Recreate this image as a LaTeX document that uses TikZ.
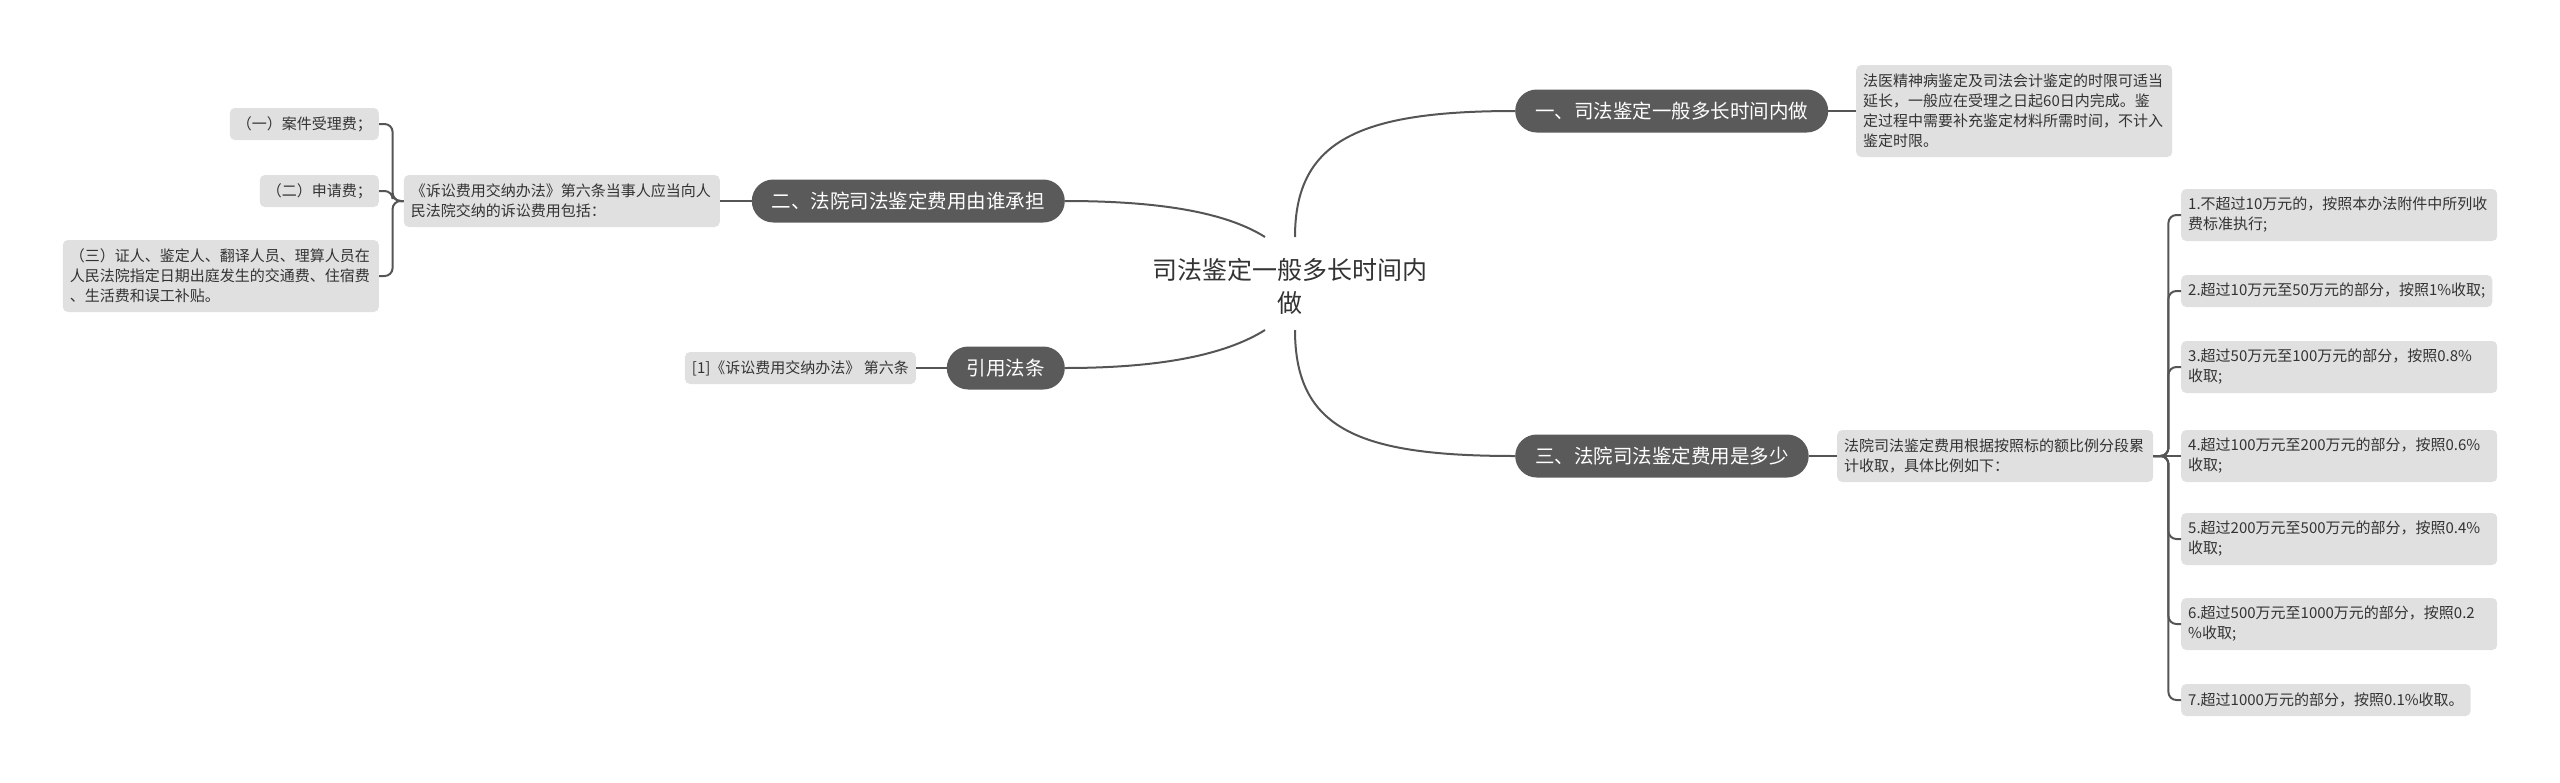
\documentclass[tikz,border=0pt]{standalone}
\usepackage{fontspec}
\setmainfont{Noto Sans CJK SC}
\definecolor{topicc}{HTML}{5A5A5A}
\definecolor{subc}{HTML}{E0E0E0}
\definecolor{lncol}{HTML}{555555}
\definecolor{txtc}{HTML}{333333}
\tikzset{
 topic/.style={fill=topicc, text=white, rounded corners=21.5pt, minimum height=43pt, inner xsep=20pt, inner ysep=0pt, font=\fontsize{19.5}{24}\selectfont},
 leaf/.style={fill=subc, text=txtc, rounded corners=5pt, inner xsep=7pt, inner ysep=3pt, font=\fontsize{15}{20}\selectfont, align=left},
 lone/.style={leaf, minimum height=32pt},
 ltwo/.style={leaf, minimum height=52pt, text width=302pt},
 lfour/.style={leaf, minimum height=92pt, text width=302pt},
 conn/.style={draw=lncol, line width=2pt},
 brk/.style={conn, rounded corners=8pt},
}
\begin{document}
\begin{tikzpicture}[x=1pt,y=-1pt]
\useasboundingbox (0,0) rectangle (2560,782);
% root
\node[font=\fontsize{25}{33}\selectfont, text=txtc, align=center] (root) at (1290,286) {司法鉴定一般多长时间内\\做};
\coordinate (rTL) at (1265,237);
\coordinate (rTR) at (1295,237);
\coordinate (rBL) at (1265,330);
\coordinate (rBR) at (1295,330);
% topics
\node[topic, anchor=west] (n1) at (1515,111) {一、司法鉴定一般多长时间内做};
\node[topic, anchor=east] (n2) at (1065,201) {二、法院司法鉴定费用由谁承担};
\node[topic, anchor=east] (n4) at (1065,368) {引用法条};
\node[topic, anchor=west] (n3) at (1515,456) {三、法院司法鉴定费用是多少};
% n1 leaf
\node[lfour, anchor=west] (n1b) at (1856,111) {法医精神病鉴定及司法会计鉴定的时限可适当\\延长，一般应在受理之日起60日内完成。鉴\\定过程中需要补充鉴定材料所需时间，不计入\\鉴定时限。};
% n2 leaves
\node[ltwo, anchor=east] (n2b) at (720,201) {《诉讼费用交纳办法》第六条当事人应当向人\\民法院交纳的诉讼费用包括：};
\node[lone, anchor=east] (a1) at (379,124) {（一）案件受理费；};
\node[lone, anchor=east] (a2) at (379,191) {（二）申请费；};
\node[leaf, minimum height=72pt, text width=302pt, anchor=east] (a3) at (379,276) {（三）证人、鉴定人、翻译人员、理算人员在\\人民法院指定日期出庭发生的交通费、住宿费\\、生活费和误工补贴。};
% n4 leaf
\node[lone, anchor=east] (n4b) at (916,368) {[1]《诉讼费用交纳办法》 第六条};
% n3 leaves
\node[ltwo, anchor=west] (n3b) at (1837,456) {法院司法鉴定费用根据按照标的额比例分段累\\计收取，具体比例如下：};
\node[ltwo, anchor=west] (i1) at (2181,215) {1.不超过10万元的，按照本办法附件中所列收\\费标准执行;};
\node[lone, anchor=west] (i2) at (2181,291) {2.超过10万元至50万元的部分，按照1\%收取;};
\node[ltwo, anchor=west] (i3) at (2181,367) {3.超过50万元至100万元的部分，按照0.8\%\\收取;};
\node[ltwo, anchor=west] (i4) at (2181,456) {4.超过100万元至200万元的部分，按照0.6\%\\收取;};
\node[ltwo, anchor=west] (i5) at (2181,539) {5.超过200万元至500万元的部分，按照0.4\%\\收取;};
\node[ltwo, anchor=west] (i6) at (2181,624) {6.超过500万元至1000万元的部分，按照0.2\\\%收取;};
\node[lone, anchor=west] (i7) at (2181,700) {7.超过1000万元的部分，按照0.1\%收取。};
% connectors from root
\draw[conn] (rTR) .. controls (1295,140) and (1360,111) .. (n1.west);
\draw[conn] (rBR) .. controls (1295,430) and (1360,456) .. (n3.west);
\draw[conn] (rTL) .. controls (1230,215) and (1170,201) .. (n2.east);
\draw[conn] (rBL) .. controls (1230,352) and (1170,368) .. (n4.east);
% topic to leaf
\draw[conn] (n1.east) -- (n1b.west);
\draw[conn] (n2.west) -- (n2b.east);
\draw[conn] (n4.west) -- (n4b.east);
\draw[conn] (n3.east) -- (n3b.west);
% brackets
\foreach \c in {a1,a2,a3} \draw[brk] (n2b.west) -- ++(-11,0) |- (\c.east);
\foreach \c in {i1,i2,i3,i5,i6,i7} \draw[brk] (n3b.east) -- ++(15,0) |- (\c.west);
\draw[conn] (n3b.east) -- (i4.west);
\end{tikzpicture}
\end{document}
